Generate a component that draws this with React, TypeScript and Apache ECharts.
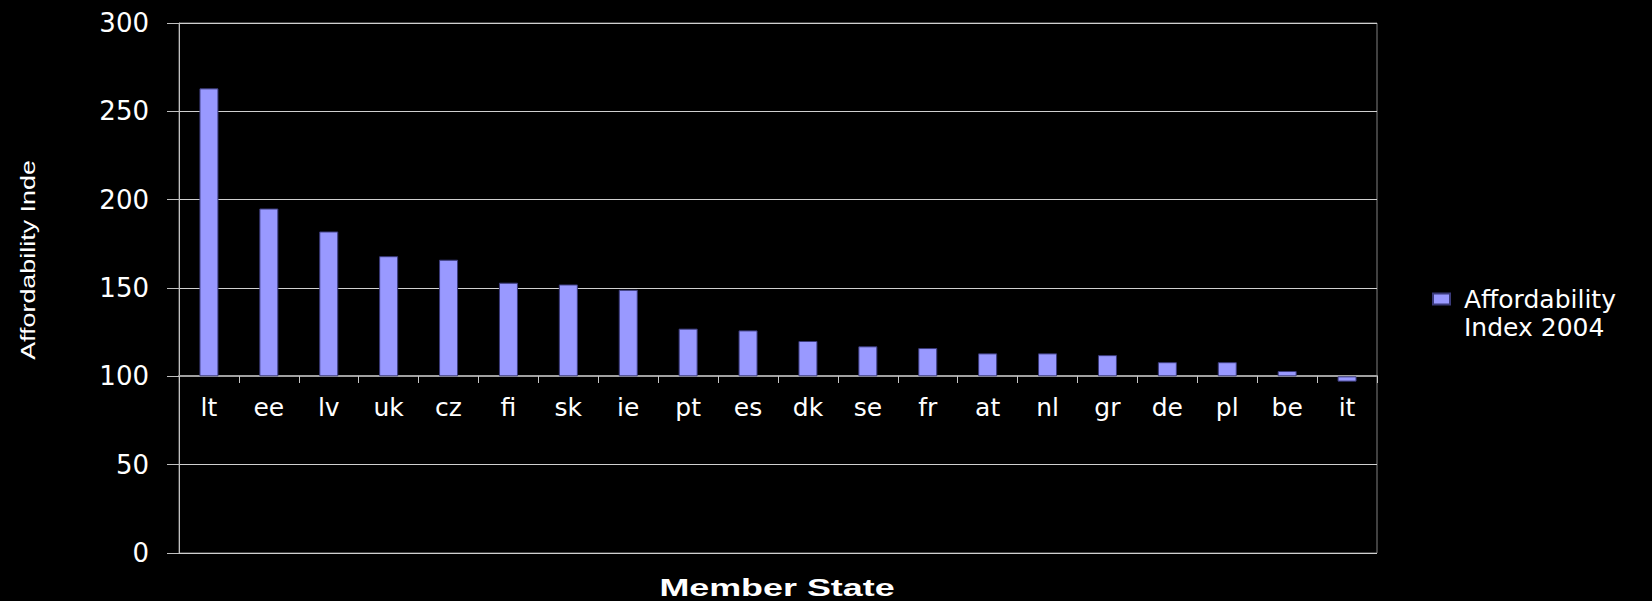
import React, { useEffect, useRef } from "react";
import * as echarts from "echarts";

const categories = ["lt", "ee", "lv", "uk", "cz", "fi", "sk", "ie", "pt", "es", "dk", "se", "fr", "at", "nl", "gr", "de", "pl", "be", "it"];
const values = [263, 195, 182, 168, 166, 153, 152, 149, 127, 126, 120, 117, 116, 113, 113, 112, 108, 108, 103, 97];
const baseline = 100;
const yMin = 0;
const yMax = 300;
const yInterval = 50;
const seriesName = "Affordability Index 2004";
const legendLabel = "\nAffordability\nIndex 2004";
const yAxisTitle = "Affordability Inde";
const xAxisTitle = "Member State";

const FONT = "'Liberation Sans', Arial, Helvetica, sans-serif";
const WIDE = "'DejaVu Sans', 'Liberation Sans', Arial, sans-serif";

export default function App() {
  const ref = useRef<HTMLDivElement>(null);
  useEffect(() => {
    if (!ref.current) return;
    const chart = echarts.init(ref.current, null, { renderer: "svg" });
    const gridLeft = 179;
    const gridTop = 23;
    const gridRight = 275;
    const gridBottom = 48;
    const plotH = 601 - gridTop - gridBottom;
    const axisOffset = -Math.round((plotH * (baseline - yMin)) / (yMax - yMin));
    chart.setOption({
      animation: false,
      backgroundColor: "#000000",
      textStyle: { fontFamily: FONT },
      grid: {
        left: gridLeft,
        top: gridTop,
        right: gridRight,
        bottom: gridBottom,
        show: true,
        borderColor: "#808080",
        borderWidth: 1,
        backgroundColor: "transparent",
      },
      legend: {
        show: true,
        data: [seriesName],
        left: 1432,
        top: 257,
        padding: 0,
        orient: "vertical",
        itemWidth: 17,
        itemHeight: 11,
        icon: "rect",
        formatter: () => legendLabel,
        textStyle: {
          color: "#ffffff",
          fontSize: 25,
          lineHeight: 28,
          fontFamily: WIDE,
          padding: [0, 0, 0, 9],
        },
      },
      xAxis: {
        type: "category",
        data: categories,
        position: "bottom",
        offset: axisOffset,
        axisLine: { show: true, onZero: false, lineStyle: { color: "#a0a0a0", width: 2 } },
        axisTick: { show: true, length: 7, lineStyle: { color: "#c8c8c8" } },
        axisLabel: { color: "#ffffff", fontSize: 25, margin: 19, fontFamily: WIDE, interval: 0 },
        splitLine: { show: false },
      },
      yAxis: {
        type: "value",
        min: yMin,
        max: yMax,
        interval: yInterval,
        axisLine: { show: true, lineStyle: { color: "#c0c0c0", width: 1 } },
        axisTick: { show: true, length: 12, lineStyle: { color: "#c0c0c0" } },
        axisLabel: { color: "#ffffff", fontSize: 26, margin: 30, fontFamily: WIDE },
        splitLine: { show: true, lineStyle: { color: "#d0d0d0", width: 1 } },
      },
      series: [
        {
          name: "base",
          type: "bar",
          stack: "a",
          stackStrategy: "all",
          silent: true,
          barWidth: 19,
          itemStyle: { color: "transparent" },
          data: values.map(() => baseline),
        },
        {
          name: seriesName,
          type: "bar",
          stack: "a",
          stackStrategy: "all",
          barWidth: 19,
          itemStyle: { color: "#9999ff", borderColor: "#3a3a7a", borderWidth: 1 },
          data: values.map((v) => v - baseline),
        },
      ],
      graphic: [
        {
          type: "text",
          x: 28,
          y: 260,
          rotation: Math.PI / 2,
          scaleX: 1.28,
          style: {
            text: yAxisTitle,
            fill: "#ffffff",
            fontSize: 21,
            fontFamily: FONT,
            align: "center",
            verticalAlign: "middle",
          },
        },
        {
          type: "text",
          x: 777,
          y: 588,
          scaleX: 1.56,
          style: {
            text: xAxisTitle,
            fill: "#ffffff",
            fontSize: 23,
            fontWeight: "bold",
            fontFamily: FONT,
            align: "center",
            verticalAlign: "middle",
          },
        },
      ],
    });
    return () => chart.dispose();
  }, []);
  return (
    <div
      ref={ref}
      style={{ position: "fixed", left: 0, top: 0, width: 1652, height: 601 }}
    />
  );
}
